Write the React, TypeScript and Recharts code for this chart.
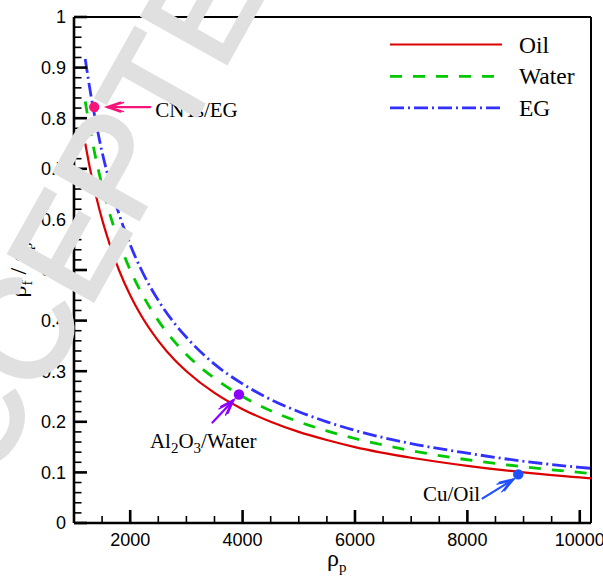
import React from 'react';
import { LineChart, Line, XAxis, YAxis, ReferenceDot, ReferenceLine } from 'recharts';

// ---------- data ----------
const densityP = [1200, 1300, 1400, 1500, 1600, 1800, 2000, 2200, 2500, 2800, 3000, 3500, 4000, 4500, 5000, 5500, 6000, 7000, 8000, 9000, 10000, 10200];
const oilRatio = [0.750, 0.692, 0.643, 0.600, 0.563, 0.500, 0.450, 0.409, 0.360, 0.321, 0.300, 0.257, 0.225, 0.200, 0.180, 0.164, 0.150, 0.129, 0.113, 0.100, 0.090, 0.088];
const waterRatio = [0.833, 0.769, 0.714, 0.667, 0.625, 0.556, 0.500, 0.455, 0.400, 0.357, 0.333, 0.286, 0.250, 0.222, 0.200, 0.182, 0.167, 0.143, 0.125, 0.111, 0.100, 0.098];
const egRatio = [0.917, 0.846, 0.786, 0.733, 0.688, 0.611, 0.550, 0.500, 0.440, 0.393, 0.367, 0.314, 0.275, 0.244, 0.220, 0.200, 0.183, 0.157, 0.138, 0.122, 0.110, 0.108];

const seriesNames = ['Oil', 'Water', 'EG'];

const nanofluidNames = ['CNTs/EG', 'Al2O3/Water', 'Cu/Oil'];
const nanofluidDensity = [1360, 3935, 8905];
const nanofluidRatio = [0.822, 0.254, 0.096];

const xTicks = [1500, 2000, 2500, 3000, 3500, 4000, 4500, 5000, 5500, 6000, 6500, 7000, 7500, 8000, 8500, 9000, 9500, 10000];
const xMajor = [2000, 4000, 6000, 8000, 10000];
const yTicks = [0, 0.02, 0.04, 0.06, 0.08, 0.1, 0.12, 0.14, 0.16, 0.18, 0.2, 0.22, 0.24, 0.26, 0.28, 0.3, 0.32, 0.34, 0.36, 0.38, 0.4, 0.42, 0.44, 0.46, 0.48, 0.5, 0.52, 0.54, 0.56, 0.58, 0.6, 0.62, 0.64, 0.66, 0.68, 0.7, 0.72, 0.74, 0.76, 0.78, 0.8, 0.82, 0.84, 0.86, 0.88, 0.9, 0.92, 0.94, 0.96, 0.98, 1];
const yMajor = [0, 0.1, 0.2, 0.3, 0.4, 0.5, 0.6, 0.7, 0.8, 0.9, 1];
const yLabels = ['0', '0.1', '0.2', '0.3', '0.4', '0.5', '0.6', '0.7', '0.8', '0.9', '1'];

// ---------- styles ----------
const W = 603;
const H = 581;
const SANS = 'Liberation Sans, Arial, sans-serif';
const SERIF = 'Liberation Serif, Times New Roman, serif';
const lineStyles: Record<string, { color: string; dash?: string; width: number }> = {
  Oil: { color: '#dd0000', width: 2.2 },
  Water: { color: '#00c800', dash: '12 11', width: 2.8 },
  EG: { color: '#3030ff', dash: '14 4 2 4', width: 2.8 },
};
const annStyles: Record<string, { color: string; head: [number, number]; tail: [number, number]; tx: number; ty: number; anchor: 'start' | 'end' }> = {
  'CNTs/EG': { color: '#f5157a', head: [13, 0], tail: [56, 0], tx: 61, ty: 10, anchor: 'start' },
  'Al2O3/Water': { color: '#8c00ff', head: [-5.5, 5.7], tail: [-26.5, 28], tx: -89, ty: 53.5, anchor: 'start' },
  'Cu/Oil': { color: '#2050ff', head: [-5, 5], tail: [-35.6, 24], tx: -38, ty: 27, anchor: 'end' },
};

const data = densityP.map((x, i) => ({ x, Oil: oilRatio[i], Water: waterRatio[i], EG: egRatio[i] }));

const TICK_MARGIN_Y = 8;
const TICK_MARGIN_X = 10;

const YTick = (props: any) => {
  const { x, y, payload } = props;
  const v = payload.value;
  const mi = yMajor.indexOf(v);
  const major = mi >= 0;
  const ax = x + TICK_MARGIN_Y;
  return (
    <g>
      <line x1={ax} y1={y} x2={ax + (major ? 13 : 7.5)} y2={y} stroke="#000" strokeWidth={major ? 2.6 : 1.6} />
      {major && (
        <text x={x} y={y} dy="0.36em" textAnchor="end" fontFamily={SANS} fontSize={18} fill="#000">
          {yLabels[mi]}
        </text>
      )}
    </g>
  );
};

const XTick = (props: any) => {
  const { x, y, payload } = props;
  const v = payload.value;
  const major = xMajor.indexOf(v) >= 0;
  const ay = y - TICK_MARGIN_X;
  return (
    <g>
      <line x1={x} y1={ay} x2={x} y2={ay - (major ? 13 : 7)} stroke="#000" strokeWidth={major ? 2.6 : 1.6} />
      {major && (
        <text x={x} y={y} dy="0.71em" textAnchor="middle" fontFamily={SANS} fontSize={18} fill="#000">
          {String(v)}
        </text>
      )}
    </g>
  );
};

function arrow(x1: number, y1: number, x2: number, y2: number, color: string) {
  // (x2,y2) is the head
  const a = Math.atan2(y1 - y2, x1 - x2);
  const L = 14;
  const s = 0.33;
  const w1x = x2 + L * Math.cos(a + s);
  const w1y = y2 + L * Math.sin(a + s);
  const w2x = x2 + L * Math.cos(a - s);
  const w2y = y2 + L * Math.sin(a - s);
  const b = 3;
  const bx = x2 + b * Math.cos(a);
  const by = y2 + b * Math.sin(a);
  return (
    <g stroke={color} strokeWidth={2.2} fill="none" strokeLinecap="round">
      <line x1={x1} y1={y1} x2={x2} y2={y2} />
      <polyline points={`${w1x},${w1y} ${x2},${y2} ${w2x},${w2y}`} />
      <polyline points={`${w1x + (bx - x2)},${w1y + (by - y2)} ${bx},${by} ${w2x + (bx - x2)},${w2y + (by - y2)}`} strokeWidth={1.4} />
    </g>
  );
}

const AnnLabel = ({ name, x, y, anchor }: { name: string; x: number; y: number; anchor: 'start' | 'end' }) => {
  if (name === 'Al2O3/Water') {
    return (
      <text x={x} y={y} textAnchor={anchor} fontFamily={SERIF} fontSize={21} fill="#000">
        <tspan>Al</tspan>
        <tspan fontSize={15} dy={5}>2</tspan>
        <tspan dy={-5}>O</tspan>
        <tspan fontSize={15} dy={5}>3</tspan>
        <tspan dy={-5}>/Water</tspan>
      </text>
    );
  }
  return (
    <text x={x} y={y} textAnchor={anchor} fontFamily={SERIF} fontSize={21} fill="#000">
      {name}
    </text>
  );
};

const makeShape = (name: string) => (p: any) => {
  const st = annStyles[name];
  const cx = p.cx;
  const cy = p.cy;
  return (
    <g>
      {arrow(cx + st.tail[0], cy + st.tail[1], cx + st.head[0], cy + st.head[1], st.color)}
      <circle cx={cx} cy={cy} r={5.2} fill={st.color} />
      <AnnLabel name={name} x={cx + st.tx} y={cy + st.ty} anchor={st.anchor} />
    </g>
  );
};

export default function App() {
  return (
    <div style={{ position: 'absolute', left: 0, top: 0, width: W, height: H, background: '#fff' }}>
      <LineChart width={W} height={H} data={data} margin={{ top: 17, right: 12, left: 14, bottom: 28 }}>
        <XAxis
          dataKey="x"
          type="number"
          domain={[1000, 10200]}
          ticks={xTicks}
          interval={0}
          tickSize={0}
          tickMargin={TICK_MARGIN_X}
          tickLine={false}
          tick={<XTick />}
          axisLine={{ stroke: '#000', strokeWidth: 2.6 }}
          height={30}
          allowDataOverflow
        />
        <YAxis
          type="number"
          domain={[0, 1]}
          ticks={yTicks}
          interval={0}
          tickSize={0}
          tickMargin={TICK_MARGIN_Y}
          tickLine={false}
          tick={<YTick />}
          axisLine={{ stroke: '#000', strokeWidth: 2.6 }}
          width={60}
          allowDataOverflow
        />
        <ReferenceLine y={1} stroke="#000" strokeWidth={2} ifOverflow="visible" />
        <ReferenceLine x={10200} stroke="#000" strokeWidth={2} ifOverflow="visible" />
        {seriesNames.map((n) => (
          <Line
            key={n}
            dataKey={n}
            type="monotone"
            stroke={lineStyles[n].color}
            strokeWidth={lineStyles[n].width}
            strokeDasharray={lineStyles[n].dash}
            dot={false}
            activeDot={false}
            isAnimationActive={false}
          />
        ))}
        {nanofluidNames.map((n, i) => (
          <ReferenceDot
            key={n}
            x={nanofluidDensity[i]}
            y={nanofluidRatio[i]}
            r={5}
            ifOverflow="visible"
            shape={makeShape(n)}
          />
        ))}
      </LineChart>
      <svg width={W} height={H} style={{ position: 'absolute', left: 0, top: 0, pointerEvents: 'none' }}>
        {/* legend */}
        {seriesNames.map((n, i) => {
          const y = [44.5, 76.3, 107.8][i];
          const st = lineStyles[n];
          return (
            <g key={n}>
              <line x1={390} y1={y} x2={502} y2={y} stroke={st.color} strokeWidth={st.width} strokeDasharray={st.dash} />
              <text x={519} y={y} dy={8} fontFamily={SERIF} fontSize={23.5} fill="#000">
                {n}
              </text>
            </g>
          );
        })}
        {/* x title */}
        <text x={327} y={566} fontFamily={SERIF} fontSize={24} fill="#000">
          ρ<tspan fontSize={15} dy={6}>p</tspan>
        </text>
        {/* y title */}
        <text
          x={0}
          y={0}
          transform="translate(26 270) rotate(-90)"
          textAnchor="middle"
          fontFamily={SERIF}
          fontSize={24}
          fill="#000"
        >
          ρ<tspan fontSize={15} dy={6}>f</tspan>
          <tspan dy={-6}> / ρ</tspan>
          <tspan fontSize={15} dy={6}>p</tspan>
        </text>
        {/* watermark */}
        <text
          x={0}
          y={0}
          transform="translate(-57 568) rotate(-60.7)"
          fontFamily={SANS}
          fontSize={140}
          fill="#e0e0e0"
          stroke="#e0e0e0"
          strokeWidth={4}
          strokeLinejoin="miter"
        >
          ACCEPTED MANUSCRIPT
        </text>
      </svg>
    </div>
  );
}
